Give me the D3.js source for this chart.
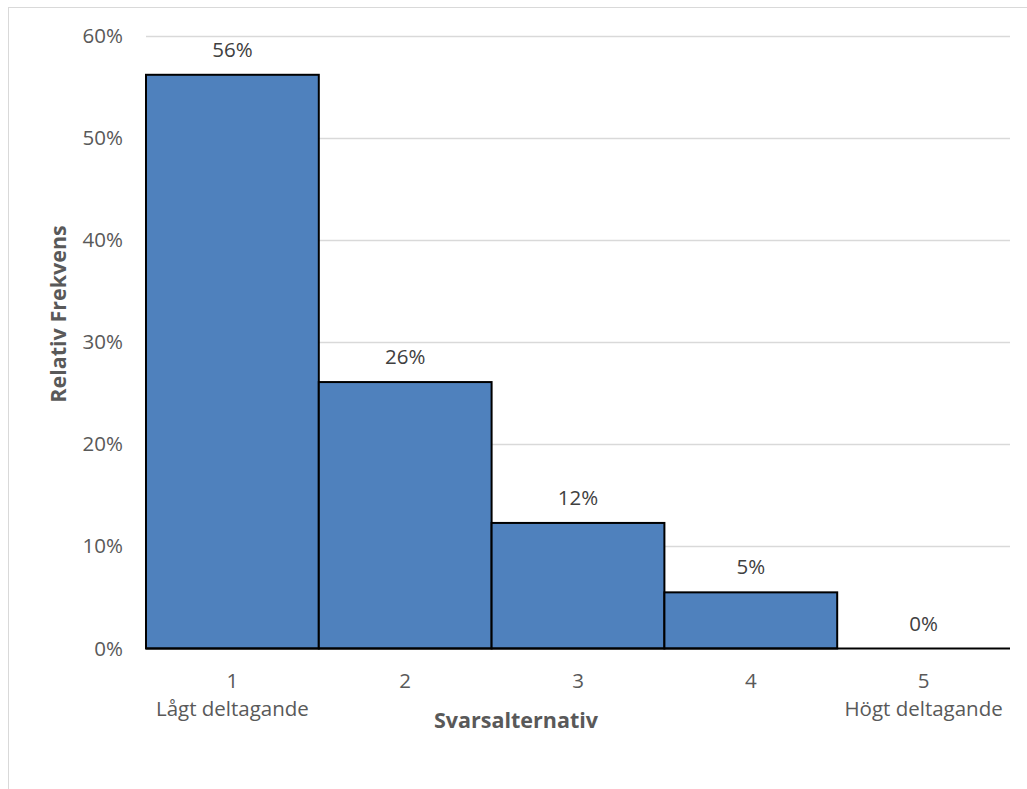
<!DOCTYPE html>
<html>
<head>
<meta charset="utf-8">
<script src="https://cdn.jsdelivr.net/npm/d3@7"></script>
<style>
  html, body { margin: 0; padding: 0; background: #fff; }
  svg { display: block; }
  text { font-family: "Open Sans", sans-serif; }
</style>
</head>
<body>
<svg id="chart" width="1027" height="789"></svg>
<script>
const categories = ["1", "2", "3", "4", "5"];
const subLabels = ["Lågt deltagande", "", "", "", "Högt deltagande"];
const values = [0.562, 0.261, 0.123, 0.055, 0.0];
const dataLabels = ["56%", "26%", "12%", "5%", "0%"];
const yTicks = [0, 0.1, 0.2, 0.3, 0.4, 0.5, 0.6];
const xTitle = "Svarsalternativ";
const yTitle = "Relativ Frekvens";

const svg = d3.select("#chart");

// outer chart border (only top and left visible)
svg.append("rect")
  .attr("x", 8.5).attr("y", 7.5)
  .attr("width", 1100).attr("height", 900)
  .attr("fill", "none").attr("stroke", "#D9D9D9").attr("stroke-width", 1);

const plotLeft = 146, plotRight = 1010, plotTop = 36, plotBottom = 648.5;

const x = d3.scaleBand().domain(categories).range([plotLeft, plotRight]).paddingInner(0).paddingOuter(0);
const y = d3.scaleLinear().domain([0, 0.6]).range([plotBottom, plotTop]);

// gridlines
svg.append("g").selectAll("line")
  .data(yTicks.filter(t => t > 0))
  .join("line")
  .attr("x1", plotLeft).attr("x2", plotRight)
  .attr("y1", d => Math.round(y(d)) + 0.5).attr("y2", d => Math.round(y(d)) + 0.5)
  .attr("stroke", "#D9D9D9").attr("stroke-width", 1.3);

// y axis labels
const yAxis = d3.axisLeft(y).tickValues(yTicks).tickFormat(d3.format(".0%")).tickSize(0).tickPadding(0);
const yg = svg.append("g").attr("transform", `translate(${plotLeft - 23},0)`).call(yAxis);
yg.select(".domain").remove();
yg.selectAll("text").attr("fill", "#595959").attr("font-size", 20.5)
  .attr("font-family", "Open Sans, sans-serif");

// bars
svg.append("g").selectAll("rect")
  .data(values)
  .join("rect")
  .attr("x", (d, i) => x(categories[i]))
  .attr("y", d => y(d))
  .attr("width", x.bandwidth())
  .attr("height", d => y(0) - y(d))
  .attr("fill", "#4F81BD")
  .attr("stroke", "#000")
  .attr("stroke-width", 2);

// x axis line
svg.append("line")
  .attr("x1", plotLeft).attr("x2", plotRight)
  .attr("y1", y(0)).attr("y2", y(0))
  .attr("stroke", "#000").attr("stroke-width", 2.2);

// data labels
svg.append("g").selectAll("text")
  .data(values)
  .join("text")
  .attr("x", (d, i) => x(categories[i]) + x.bandwidth() / 2)
  .attr("y", d => y(d) - 18)
  .attr("text-anchor", "middle")
  .attr("font-size", 20.5)
  .attr("fill", "#404040")
  .text((d, i) => dataLabels[i]);

// x tick labels
const xAxis = d3.axisBottom(x).tickSize(0).tickPadding(0);
const xg = svg.append("g").attr("transform", `translate(0,${y(0)})`).call(xAxis);
xg.select(".domain").remove();
xg.selectAll(".tick text").remove();
xg.selectAll(".tick").each(function(d, i) {
  const t = d3.select(this).append("text")
    .attr("text-anchor", "middle")
    .attr("fill", "#595959")
    .attr("font-size", 20.5)
    .attr("font-family", "Open Sans, sans-serif");
  t.append("tspan").attr("x", 0).attr("y", 39).text(d);
  if (subLabels[i]) t.append("tspan").attr("x", 0).attr("y", 67).text(subLabels[i]);
});

// axis titles
svg.append("text")
  .attr("x", 516)
  .attr("y", 728)
  .attr("text-anchor", "middle")
  .attr("font-size", 21.5)
  .attr("font-weight", "bold")
  .attr("fill", "#595959")
  .text(xTitle);

svg.append("text")
  .attr("transform", "translate(66,314) rotate(-90)")
  .attr("text-anchor", "middle")
  .attr("font-size", 21.5)
  .attr("font-weight", "bold")
  .attr("fill", "#595959")
  .text(yTitle);
</script>
</body>
</html>
